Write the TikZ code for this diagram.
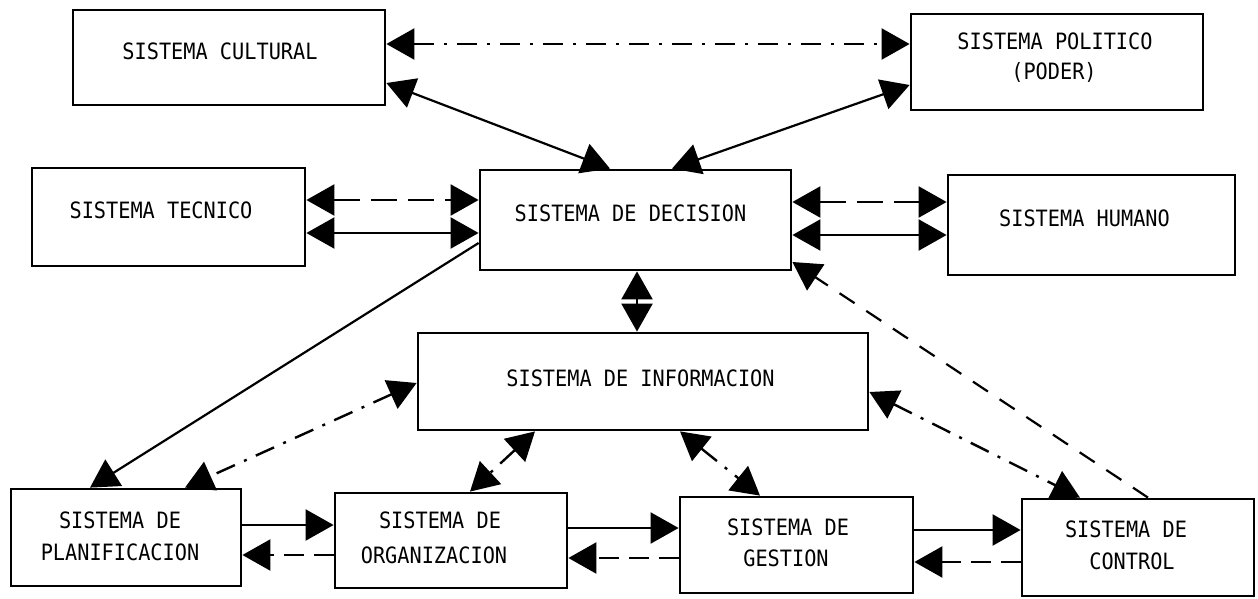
\documentclass[tikz,border=0pt]{standalone}
\usepackage{fontspec}
\setmainfont{DejaVu Sans Mono}[FakeStretch=0.9]
\usetikzlibrary{arrows.meta}
\begin{document}
\begin{tikzpicture}[x=1pt,y=-1pt,
  >={Triangle[length=28pt,width=31pt]},
  box/.style={draw, line width=2.8pt, inner sep=0pt, rectangle},
  lbl/.style={font=\fontsize{22.5}{32}\selectfont, inner sep=0pt, anchor=base},
  linksolid/.style={line width=2.2pt},
  linkdd/.style={line width=2.4pt, dash pattern=on 20pt off 10pt on 3pt off 10pt},
  linkdash/.style={line width=2.4pt, dash pattern=on 26pt off 11pt},
  linkshort/.style={line width=2.4pt, dash pattern=on 20pt off 10pt},
  linkfeed/.style={line width=2.2pt, dash pattern=on 18pt off 14pt}]
\useasboundingbox (0,0) rectangle (1258,599);

% system boxes
\node[box, minimum width=312pt, minimum height=95pt]  (cult) at (229,57.5)  {};
\node[box, minimum width=292pt, minimum height=96pt]  (pol)  at (1057,62)   {};
\node[box, minimum width=273pt, minimum height=98pt]  (tec)  at (168.5,217) {};
\node[box, minimum width=311pt, minimum height=100pt] (dec)  at (635.5,220) {};
\node[box, minimum width=287pt, minimum height=100pt] (hum)  at (1091.5,225){};
\node[box, minimum width=450pt, minimum height=97pt]  (inf)  at (643,381.5) {};
\node[box, minimum width=230pt, minimum height=97pt]  (plan) at (126,537.5) {};
\node[box, minimum width=232pt, minimum height=95pt]  (org)  at (451,540.5) {};
\node[box, minimum width=233pt, minimum height=96pt]  (ges)  at (796.5,545) {};
\node[box, minimum width=232pt, minimum height=97pt]  (ctl)  at (1138,547.5){};

% box titles
\node[lbl] (cult-t)  at (220,60)    {SISTEMA CULTURAL};
\node[lbl] (pol-t1)  at (1055,50)   {SISTEMA POLITICO};
\node[lbl] (pol-t2)  at (1054,80)   {(PODER)};
\node[lbl] (tec-t)   at (161,218)   {SISTEMA TECNICO};
\node[lbl] (dec-t)   at (630.5,221) {SISTEMA DE DECISION};
\node[lbl] (hum-t)   at (1084.5,226){SISTEMA HUMANO};
\node[lbl] (inf-t)   at (640.5,386) {SISTEMA DE INFORMACION};
\node[lbl] (plan-t1) at (120,528)   {SISTEMA DE};
\node[lbl] (plan-t2) at (120,560)   {PLANIFICACION};
\node[lbl] (org-t1)  at (440,528)   {SISTEMA DE};
\node[lbl] (org-t2)  at (434,563)   {ORGANIZACION};
\node[lbl] (ges-t1)  at (788,535)   {SISTEMA DE};
\node[lbl] (ges-t2)  at (786,566)   {GESTION};
\node[lbl] (ctl-t1)  at (1126,537)  {SISTEMA DE};
\node[lbl] (ctl-t2)  at (1132,569)  {CONTROL};

% upper links
\draw[linkdd, <->]    (cult.east |- 0,44)  -- (pol.west |- 0,44);
\draw[linksolid, <->] (cult.east |- 0,83)  -- (dec.north -| 610,0);
\draw[linksolid, <->] (pol.west |- 0,85)   -- (dec.north -| 672,0);
\draw[linkdash, <->]  (tec.east |- 0,200)  -- (dec.west |- 0,200);
\draw[linksolid, <->] (tec.east |- 0,233)  -- (dec.west |- 0,233);
\draw[linkdash, <->]  (dec.east |- 0,202)  -- (hum.west |- 0,202);
\draw[linksolid, <->] (dec.east |- 0,235)  -- (hum.west |- 0,235);
\draw[linksolid, <->] (dec.south -| 637,0) -- (inf.north -| 637,0);
\draw[linksolid, ->]  (dec.west |- 0,243)  -- (plan.north -| 90,0);
\draw[linkfeed, ->]   (ctl.north -| 1148,0) -- (dec.east |- 0,262);

% information links
\draw[linkdd, <->] (inf.west |- 0,383)   -- (plan.north -| 185,0);
\draw[linkdd, <->] (inf.south -| 535,0)  -- (org.north -| 470,0);
\draw[linkdd, <->] (inf.south -| 680,0)  -- (ges.north -| 760,0);
\draw[linkdd, <->] (inf.east |- 0,392)   -- (ctl.north -| 1080,0);

% management chain
\draw[linksolid, ->] (plan.east |- 0,525) -- (org.west |- 0,525);
\draw[linkshort, ->] (org.west |- 0,555)  -- (plan.east |- 0,555);
\draw[linksolid, ->] (org.east |- 0,528)  -- (ges.west |- 0,528);
\draw[linkshort, ->] (ges.west |- 0,558)  -- (org.east |- 0,558);
\draw[linksolid, ->] (ges.east |- 0,530)  -- (ctl.west |- 0,530);
\draw[linkshort, ->] (ctl.west |- 0,562)  -- (ges.east |- 0,562);
\end{tikzpicture}
\end{document}
